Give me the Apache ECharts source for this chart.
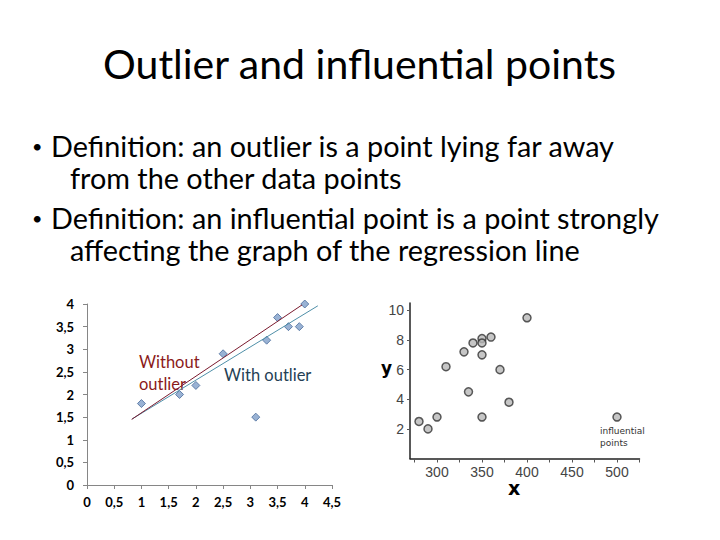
<!DOCTYPE html>
<html>
<head>
<meta charset="utf-8">
<script src="https://cdn.jsdelivr.net/npm/echarts@6/dist/echarts.min.js"></script>
<style>
  html, body { margin: 0; padding: 0; background: #fff; }
  #main { width: 720px; height: 540px; }
</style>
</head>
<body>
<div id="main"></div>
<script>
// left chart: points
var leftPoints = [
  [1.0, 1.8], [1.7, 2.0], [2.0, 2.2], [2.5, 2.9], [3.1, 1.5],
  [3.3, 3.2], [3.5, 3.7], [3.7, 3.5], [3.9, 3.5], [4.0, 4.0]
]
// regression lines (end points)
var lineWithout = [[0.82, 1.45], [3.95, 3.98]]
var lineWith = [[0.83, 1.46], [4.24, 3.96]]

// right chart (scanned plot)
var rightPoints = [
  [280, 2.5], [290, 2.0], [300, 2.8], [310, 6.2], [330, 7.2], [335, 4.5],
  [340, 7.8], [350, 8.1], [350, 7.8], [350, 7.0], [360, 8.2], [370, 6.0],
  [350, 2.8], [380, 3.8], [400, 9.5], [500, 2.8]
]
var rightXTicks = [300, 350, 400, 450, 500]
var rightXMinor = [275, 300, 325, 350, 375, 400, 425, 450, 475, 500, 525]

var titleText = 'Outlier and influential points'
var bullets = [
  ['Definition: an outlier is a point lying far away', 'from the other data points'],
  ['Definition: an influential point is a point strongly', 'affecting the graph of the regression line']
]

var chart = echarts.init(document.getElementById('main'), null, { renderer: 'svg' })

var font = 'Lato, "Open Sans", sans-serif'
var scanFont = '"Liberation Sans Narrow", "Liberation Sans", sans-serif'
var graphics = [
  { type: 'text', left: 'center', top: 43, style: { text: titleText, font: '41px ' + font, fill: '#000' } },
  { type: 'text', x: 32, y: 146, style: { text: '•', font: '18px ' + font, fill: '#000', textVerticalAlign: 'middle' } },
  { type: 'text', x: 51, y: 146, style: { text: bullets[0][0], font: '28.8px ' + font, fill: '#000', textVerticalAlign: 'middle' } },
  { type: 'text', x: 70, y: 178, style: { text: bullets[0][1], font: '28.8px ' + font, fill: '#000', textVerticalAlign: 'middle' } },
  { type: 'text', x: 32, y: 218, style: { text: '•', font: '18px ' + font, fill: '#000', textVerticalAlign: 'middle' } },
  { type: 'text', x: 51, y: 218, style: { text: bullets[1][0], font: '28.8px ' + font, fill: '#000', textVerticalAlign: 'middle' } },
  { type: 'text', x: 70, y: 250, style: { text: bullets[1][1], font: '28.8px ' + font, fill: '#000', textVerticalAlign: 'middle' } },
  // labels inside left chart
  { type: 'text', x: 139, y: 362, style: { text: 'Without', font: '16.5px ' + font, fill: '#8b1a1a', textVerticalAlign: 'middle' } },
  { type: 'text', x: 139, y: 384, style: { text: 'outlier', font: '16.5px ' + font, fill: '#8b1a1a', textVerticalAlign: 'middle' } },
  { type: 'text', x: 224, y: 375, style: { text: 'With outlier', font: '16.5px ' + font, fill: '#243f55', textVerticalAlign: 'middle' } },
  // right chart annotations
  { type: 'text', x: 381, y: 368, style: { text: 'y', font: 'bold 17px "DejaVu Sans", sans-serif', fill: '#000', textVerticalAlign: 'middle' } },
  { type: 'text', x: 508, y: 488, style: { text: 'x', font: 'bold 19px "DejaVu Sans", sans-serif', fill: '#000', textVerticalAlign: 'middle' } },
  { type: 'text', x: 600, y: 431, style: { text: 'influential', font: '9px "DejaVu Sans", sans-serif', fill: '#333', textVerticalAlign: 'middle' } },
  { type: 'text', x: 600, y: 443, style: { text: 'points', font: '9px "DejaVu Sans", sans-serif', fill: '#333', textVerticalAlign: 'middle' } }
]

function comma(v) { return String(v).replace('.', ',') }

chart.setOption({
  animation: false,
  graphic: graphics,
  grid: [
    { left: 87, top: 304, width: 245, height: 181 },
    { left: 410, top: 303, width: 229.5, height: 155.5 }
  ],
  xAxis: [{
    gridIndex: 0, type: 'value', min: 0, max: 4.5, interval: 0.5,
    axisLine: { lineStyle: { color: '#868686' } },
    axisTick: { show: true, lineStyle: { color: '#868686' }, length: 4 },
    splitLine: { show: false },
    axisLabel: { formatter: comma, color: '#000', fontSize: 13, fontWeight: 'bold', fontFamily: font, margin: 10 }
  }, {
    gridIndex: 1, type: 'value', min: 270, max: 525,
    axisLine: { lineStyle: { color: '#222', width: 1.5 } },
    axisTick: { show: true, customValues: rightXMinor, lineStyle: { color: '#555' }, length: 4 },
    splitLine: { show: false },
    axisLabel: { customValues: rightXTicks, color: '#444', fontSize: 14, fontFamily: scanFont, margin: 6 }
  }],
  yAxis: [{
    gridIndex: 0, type: 'value', min: 0, max: 4, interval: 0.5,
    axisLine: { show: true, lineStyle: { color: '#868686' } },
    axisTick: { show: true, lineStyle: { color: '#868686' }, length: 4 },
    splitLine: { show: false },
    axisLabel: { formatter: comma, color: '#000', fontSize: 13, fontWeight: 'bold', fontFamily: font, margin: 13 }
  }, {
    gridIndex: 1, type: 'value', min: 0, max: 10.5, interval: 2,
    axisLine: { show: true, lineStyle: { color: '#222', width: 1.5 } },
    axisTick: { show: true, lineStyle: { color: '#555' }, length: 3 },
    splitLine: { show: false },
    axisLabel: { showMinLabel: false, showMaxLabel: false, color: '#444', fontSize: 14, fontFamily: scanFont, margin: 6 }
  }],
  series: [{
    type: 'line', xAxisIndex: 0, yAxisIndex: 0, data: lineWith, showSymbol: false,
    lineStyle: { color: '#4f8fa8', width: 1 }
  }, {
    type: 'line', xAxisIndex: 0, yAxisIndex: 0, data: lineWithout, showSymbol: false,
    lineStyle: { color: '#7a1a2e', width: 1 }
  }, {
    type: 'scatter', xAxisIndex: 0, yAxisIndex: 0, data: leftPoints,
    symbol: 'diamond', symbolSize: 8,
    itemStyle: { color: '#7f9fc9', borderColor: '#4a6c9b', borderWidth: 1 }
  }, {
    type: 'scatter', xAxisIndex: 1, yAxisIndex: 1, data: rightPoints,
    symbol: 'circle', symbolSize: 8,
    itemStyle: { color: '#b8b8b8', borderColor: '#333', borderWidth: 1.5 }
  }]
})
</script>
</body>
</html>
